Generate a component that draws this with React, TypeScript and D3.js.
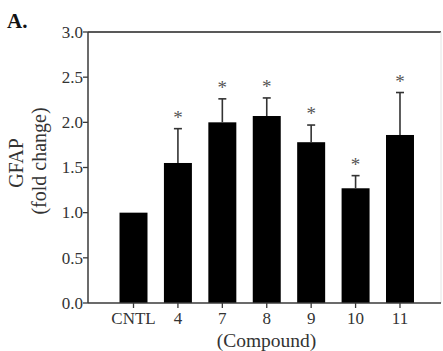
import React from "react";
import * as d3 from "d3";

// bar data
const compounds = ["CNTL", "4", "7", "8", "9", "10", "11"];
const gfapValues = [1.0, 1.55, 2.0, 2.07, 1.78, 1.27, 1.86];
const gfapErrors = [0, 0.38, 0.26, 0.2, 0.19, 0.14, 0.47];
const significant = [false, true, true, true, true, true, true];
const yTicks = [0, 0.5, 1.0, 1.5, 2.0, 2.5, 3.0];

const W = 443;
const H = 351;
const plot = { left: 88, right: 441, top: 32, bottom: 303 };
const font = "'Liberation Serif', 'Times New Roman', serif";

const App = () => {
  const x = d3.scaleBand()
    .domain(compounds)
    .range([111.3, 422.2])
    .paddingInner(0.37)
    .paddingOuter(0.185);

  const y = d3.scaleLinear()
    .domain([0, 3])
    .range([plot.bottom, plot.top]);

  const axisColor = "#3a3a3a";

  return (
    <svg width={W} height={H} style={{ position: "absolute", left: 0, top: 0, background: "#fff" }}>
      <text x={7} y={28} fontFamily={font} fontWeight="bold" fontSize={21} fill="#111">A.</text>

      {/* frame: top line, faint right edge */}
      <line x1={plot.left} x2={plot.right} y1={plot.top} y2={plot.top} stroke="#222" strokeWidth={1.5} />
      <line x1={plot.right} x2={plot.right} y1={plot.top} y2={plot.bottom} stroke="#e4e4e4" strokeWidth={1} />

      {/* bars */}
      {compounds.map((c, i) => (
        <rect key={c} x={x(c)} y={y(gfapValues[i])} width={x.bandwidth()}
          height={plot.bottom - y(gfapValues[i])} fill="#000" />
      ))}

      {/* error bars (upper only) */}
      {compounds.map((c, i) => {
        if (!gfapErrors[i]) return null;
        const cx = x(c) + x.bandwidth() / 2;
        const top = y(gfapValues[i] + gfapErrors[i]);
        return (
          <g key={"e" + c} stroke="#333" strokeWidth={1.6}>
            <line x1={cx} x2={cx} y1={y(gfapValues[i])} y2={top} />
            <line x1={cx - 4} x2={cx + 4} y1={top} y2={top} />
          </g>
        );
      })}

      {/* significance stars */}
      {compounds.map((c, i) => significant[i] ? (
        <text key={"s" + c} x={x(c) + x.bandwidth() / 2}
          y={y(gfapValues[i] + gfapErrors[i]) - 5}
          textAnchor="middle" fontFamily={font} fontSize={19} fill="#555">*</text>
      ) : null)}

      {/* y axis */}
      <line x1={plot.left} x2={plot.left} y1={plot.top} y2={plot.bottom} stroke={axisColor} strokeWidth={1.5} />
      {yTicks.map((t) => (
        <g key={"y" + t}>
          <line x1={plot.left - 5} x2={plot.left} y1={y(t)} y2={y(t)} stroke={axisColor} strokeWidth={1.3} />
          <text x={plot.left - 5} y={y(t)} dy="0.34em" textAnchor="end"
            fontFamily={font} fontSize={17} fill="#333">{d3.format(".1f")(t)}</text>
        </g>
      ))}

      {/* x axis */}
      <line x1={plot.left} x2={plot.right} y1={plot.bottom} y2={plot.bottom} stroke={axisColor} strokeWidth={1.5} />
      {compounds.map((c) => {
        const cx = x(c) + x.bandwidth() / 2;
        return (
          <g key={"x" + c}>
            <line x1={cx} x2={cx} y1={plot.bottom} y2={plot.bottom + 5} stroke={axisColor} strokeWidth={1.3} />
            <text x={cx} y={324} textAnchor="middle" fontFamily={font} fontSize={17} fill="#333">{c}</text>
          </g>
        );
      })}

      {/* axis titles */}
      <text x={(plot.left + plot.right) / 2 + 2} y={347} textAnchor="middle"
        fontFamily={font} fontSize={19.5} fill="#333">(Compound)</text>
      <text transform="translate(23,163) rotate(-90)" textAnchor="middle"
        fontFamily={font} fontSize={20} fill="#333">GFAP</text>
      <text transform="translate(46,161) rotate(-90)" textAnchor="middle"
        fontFamily={font} fontSize={20} fill="#333">(fold change)</text>
    </svg>
  );
};

export default App;
